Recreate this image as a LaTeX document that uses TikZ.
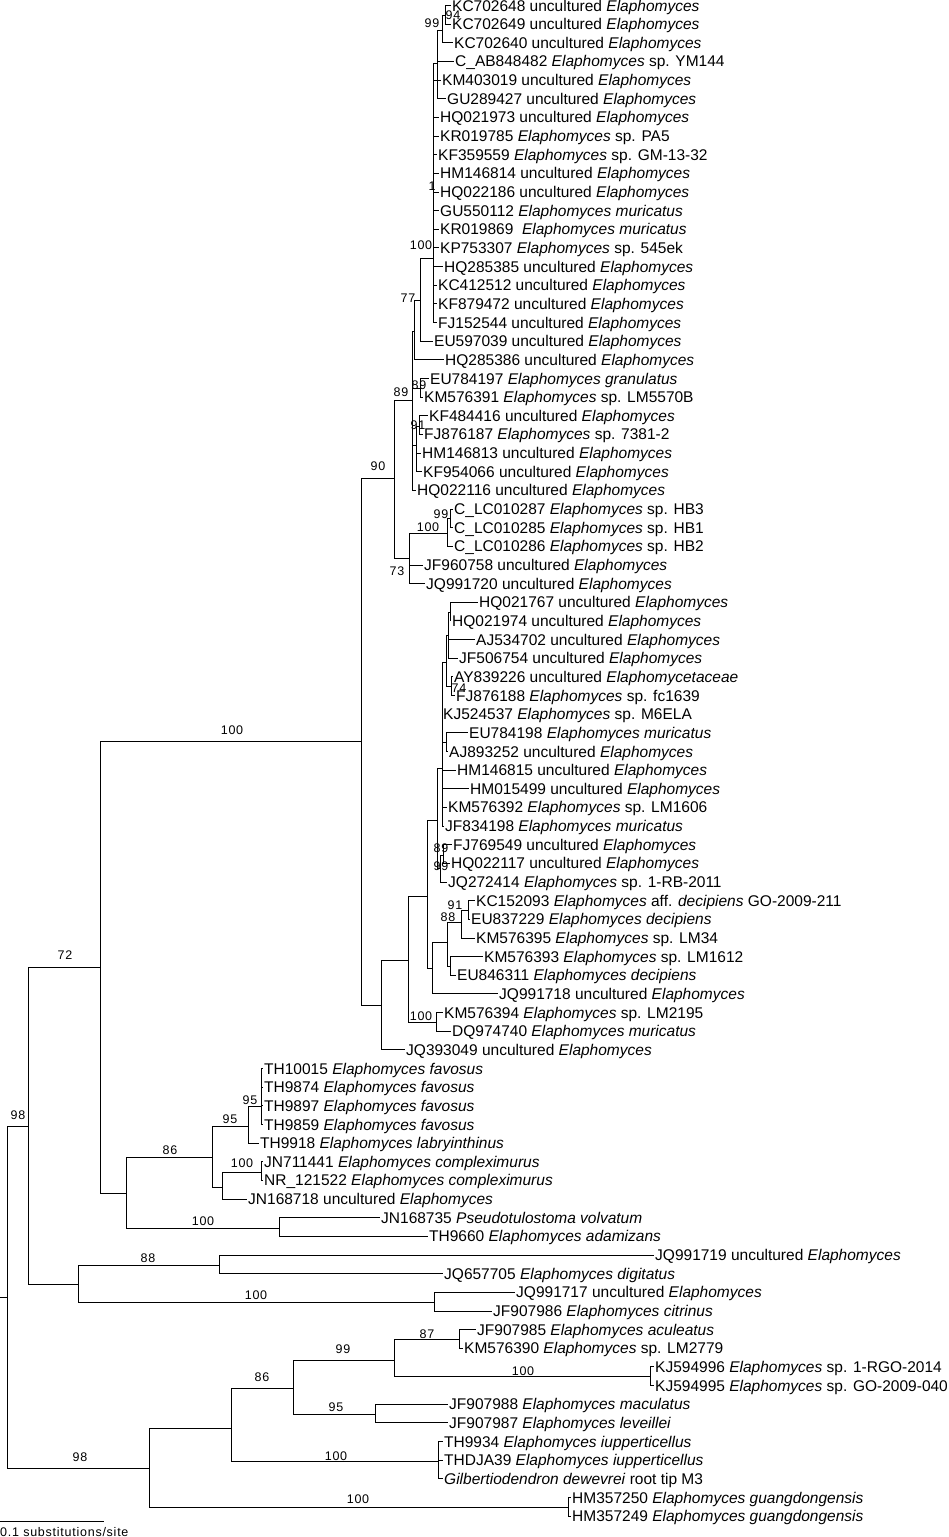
\documentclass[tikz,border=0pt]{standalone}
\usepackage{fontspec}
\setmainfont{Liberation Sans}
\newfontfamily\bsfont[LetterSpace=6]{Liberation Sans}
\usepackage{tikz}
\usetikzlibrary{positioning}
\newcommand{\elaph}{\textit{Elaphomyces}}

\begin{document}
\begin{tikzpicture}[x=1pt,y=-1pt,
    leaf/.style={anchor=west,inner sep=1pt,text height=11pt,text depth=0pt,font=\fontsize{15.5}{18}\selectfont},
    bs/.style={inner sep=0pt,font=\bsfont\fontsize{12.5}{14}\selectfont},
    br/.style={line width=1pt}]
  \useasboundingbox (0,0) rectangle (949,1537);
  \foreach \lx/\lab [count=\i] in {
      451/KC702648 uncultured \elaph,
      451/KC702649 uncultured \elaph,
      453/KC702640 uncultured \elaph,
      454/C\_AB848482 \elaph{} sp. YM144,
      441/KM403019 uncultured \elaph,
      446/GU289427 uncultured \elaph,
      439/HQ021973 uncultured \elaph,
      439/KR019785 \elaph{} sp. PA5,
      437/KF359559 \elaph{} sp. GM-13-32,
      439/HM146814 uncultured \elaph,
      439/HQ022186 uncultured \elaph,
      439/GU550112 \textit{Elaphomyces muricatus},
      439/KR019869~ \textit{Elaphomyces muricatus},
      439/KP753307 \elaph{} sp. 545ek,
      443/HQ285385 uncultured \elaph,
      437/KC412512 uncultured \elaph,
      437/KF879472 uncultured \elaph,
      437/FJ152544 uncultured \elaph,
      433/EU597039 uncultured \elaph,
      444/HQ285386 uncultured \elaph,
      429/EU784197 \textit{Elaphomyces granulatus},
      423/KM576391 \elaph{} sp. LM5570B,
      428/KF484416 uncultured \elaph,
      423/FJ876187 \elaph{} sp. 7381-2,
      421/HM146813 uncultured \elaph,
      422/KF954066 uncultured \elaph,
      416/HQ022116 uncultured \elaph,
      453/C\_LC010287 \elaph{} sp. HB3,
      453/C\_LC010285 \elaph{} sp. HB1,
      453/C\_LC010286 \elaph{} sp. HB2,
      423/JF960758 uncultured \elaph,
      425/JQ991720 uncultured \elaph,
      478/HQ021767 uncultured \elaph,
      451/HQ021974 uncultured \elaph,
      475/AJ534702 uncultured \elaph,
      458/JF506754 uncultured \elaph,
      453/AY839226 uncultured \textit{Elaphomycetaceae},
      455/FJ876188 \elaph{} sp. fc1639,
      442/KJ524537 \elaph{} sp. M6ELA,
      468/EU784198 \textit{Elaphomyces muricatus},
      448/AJ893252 uncultured \elaph,
      456/HM146815 uncultured \elaph,
      469/HM015499 uncultured \elaph,
      447/KM576392 \elaph{} sp. LM1606,
      444/JF834198 \textit{Elaphomyces muricatus},
      452/FJ769549 uncultured \elaph,
      450/HQ022117 uncultured \elaph,
      447/JQ272414 \elaph{} sp. 1-RB-2011,
      475/KC152093 \elaph{} aff. \textit{decipiens} GO-2009-211,
      470/EU837229 \textit{Elaphomyces decipiens},
      475/KM576395 \elaph{} sp. LM34,
      483/KM576393 \elaph{} sp. LM1612,
      456/EU846311 \textit{Elaphomyces decipiens},
      498/JQ991718 uncultured \elaph,
      443/KM576394 \elaph{} sp. LM2195,
      451/DQ974740 \textit{Elaphomyces muricatus},
      405/JQ393049 uncultured \elaph,
      263/TH10015 \textit{Elaphomyces favosus},
      263/TH9874 \textit{Elaphomyces favosus},
      263/TH9897 \textit{Elaphomyces favosus},
      263/TH9859 \textit{Elaphomyces favosus},
      259/TH9918 \textit{Elaphomyces labryinthinus},
      263/JN711441 \textit{Elaphomyces compleximurus},
      263/NR\_121522 \textit{Elaphomyces compleximurus},
      247/JN168718 uncultured \elaph,
      380/JN168735 \textit{Pseudotulostoma volvatum},
      428/TH9660 \textit{Elaphomyces adamizans},
      654/JQ991719 uncultured \elaph,
      443/JQ657705 \textit{Elaphomyces digitatus},
      515/JQ991717 uncultured \elaph,
      492/JF907986 \textit{Elaphomyces citrinus},
      476/JF907985 \textit{Elaphomyces aculeatus},
      463/KM576390 \elaph{} sp. LM2779,
      654/KJ594996 \elaph{} sp. 1-RGO-2014,
      654/KJ594995 \elaph{} sp. GO-2009-040,
      448/JF907988 \textit{Elaphomyces maculatus},
      448/JF907987 \textit{Elaphomyces leveillei},
      443/TH9934 \textit{Elaphomyces iupperticellus},
      443/THDJA39 \textit{Elaphomyces iupperticellus},
      443/\textit{Gilbertiodendron dewevrei} root tip M3,
      571/HM357250 \textit{Elaphomyces guangdongensis},
      571/HM357249 \textit{Elaphomyces guangdongensis}}
    \node[leaf] (l\i) at (\lx,{5.5+18.65*(\i-1)}) {\lab};
  \foreach \n/\px/\py in {n94/445/15.5, n99a/442/30, na/437/63, n100b/433/258, n77/420/300,
      nc/414/331, n89b/420/388, n91a/419/426, ne/416/445, n89a/412/400, n99c/450/518,
      n100c/447/533, n73/409/558, n90/394/478, nw1/450/612, nw/448/635, n74/451/686,
      nz/446/662, ny/446/742, nt/442/768, n99u/443/855, n89u/440/868, no/437/820,
      n91b/468/910, n88/461/922, nq/450/966, ns/447/942, np/432/968, nn/427/896,
      n100d/436/1022, nm/408/960, nlow/381/1005, n100a/361/741, n95b/261/1106,
      n95a/248/1126, n100e/261/1172, nh/222/1187, n86a/212/1157, n100f/279/1228,
      ng/126/1193, n72/100/967, n88b/219/1265, n100g/434/1302, na2/78/1284, nA/28/1126,
      n87/459/1339, n100h/650/1376, n99b/394/1360, n95c/375/1414, n86b/293/1388,
      n100i/438/1461, ni/231/1428, n100j/568/1507, nB/149/1468, root/7/1297}
    \coordinate (\n) at (\px,\py);
  \coordinate (rootin) at (0,1297);
  \foreach \p/\c in {n94/l1, n94/l2, n99a/n94, n99a/l3, na/n99a, na/l4, na/l6, n100b/na,
      n100b/l5, n100b/l7, n100b/l8, n100b/l9, n100b/l10, n100b/l11, n100b/l12, n100b/l13,
      n100b/l14, n100b/l15, n100b/l16, n100b/l17, n100b/l18, n77/n100b, n77/l19, nc/n77,
      nc/l20, n89b/l21, n89b/l22, n91a/l23, n91a/l24, ne/n91a, ne/l25, ne/l26, n89a/nc,
      n89a/n89b, n89a/ne, n89a/l27, n99c/l28, n99c/l29, n100c/n99c, n100c/l30, n73/n100c,
      n73/l31, n73/l32, n90/n89a, n90/n73,
      nw1/l33, nw1/l34, nw/nw1, nw/l35, nw/l36, n74/l37, n74/l38, nz/nw, nz/n74, nt/nz,
      nt/l39, ny/l40, ny/l41, nt/ny, nt/l42, nt/l43, nt/l44, nt/l45, n99u/l46, n99u/l47,
      n89u/n99u, n89u/l48, no/nt, no/n89u, n91b/l49, n91b/l50, n88/n91b, n88/l51, nq/l52,
      nq/l53, ns/n88, ns/nq, np/ns, np/l54, nn/no, nn/np, n100d/l55, n100d/l56, nm/nn,
      nm/n100d, nlow/nm, nlow/l57, n100a/n90, n100a/nlow,
      n95b/l58, n95b/l59, n95b/l60, n95b/l61, n95a/n95b, n95a/l62, n100e/l63, n100e/l64,
      nh/n100e, nh/l65, n86a/n95a, n86a/nh, n100f/l66, n100f/l67, ng/n86a, ng/n100f,
      n72/n100a, n72/ng, n88b/l68, n88b/l69, n100g/l70, n100g/l71, na2/n88b, na2/n100g,
      nA/n72, nA/na2, n87/l72, n87/l73, n100h/l74, n100h/l75, n99b/n87, n99b/n100h,
      n95c/l76, n95c/l77, n86b/n99b, n86b/n95c, n100i/l78, n100i/l79, n100i/l80, ni/n86b,
      ni/n100i, n100j/l81, n100j/l82, nB/ni, nB/n100j, root/nA, root/nB}
    \draw[br] (\p) |- (\c);
  \draw[br] (rootin) -- (root);
  \foreach \bx/\by/\bv [count=\k] in {453/15/94, 432/23/99, 432/186/1, 421/245/100,
      408/298/77, 401/392/89, 419/385/89, 418/425/91, 378/466/90, 441/514/99, 428/527/100,
      397/571/73, 459/688/74, 441/848/89, 441/866/99, 455/905/91, 448/917/88,
      421/1016/100, 232/730/100, 65/955/72, 250/1100/95, 230/1119/95, 170/1150/86,
      242/1163/100, 203/1221/100, 18/1115/98, 148/1258/88, 256/1295/100, 427/1334/87,
      343/1349/99, 523/1371/100, 262/1377/86, 336/1407/95, 336/1456/100, 80/1457/98,
      358/1499/100}
    \node[bs] (b\k) at (\bx,\by) {\bv};
  \coordinate (sb0) at (0,1521);
  \coordinate (sb1) at (104,1521);
  \draw[br] (sb0) -- (sb1);
  \node[bs,anchor=base west] (sblab) at (0,1536) {0.1 substitutions/site};
\end{tikzpicture}
\end{document}
